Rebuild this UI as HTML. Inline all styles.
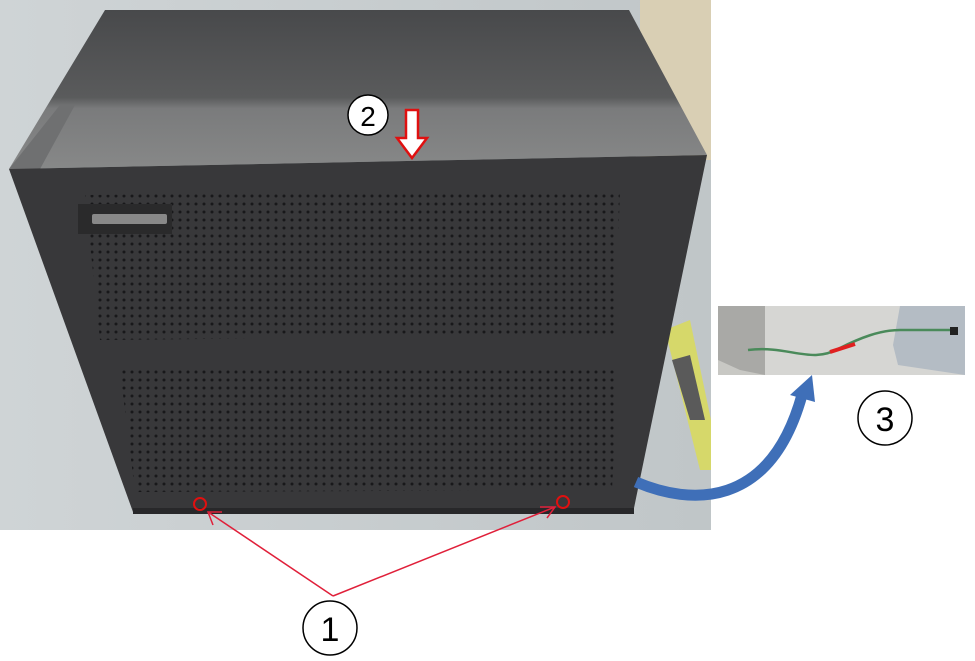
<!DOCTYPE html>
<html><head><meta charset="utf-8"><style>
html,body{margin:0;padding:0;background:#fff;width:975px;height:661px;overflow:hidden}
svg{display:block}
text{font-family:"Liberation Sans","DejaVu Sans",sans-serif}
</style></head><body>
<svg width="975" height="661" viewBox="0 0 975 661" xmlns="http://www.w3.org/2000/svg">
<defs>
<linearGradient id="floor" x1="0" y1="0" x2="1" y2="0">
<stop offset="0" stop-color="#cfd4d6"/><stop offset="1" stop-color="#c0c6c8"/></linearGradient>
<linearGradient id="topf" x1="0" y1="0" x2="0" y2="1">
<stop offset="0" stop-color="#48494b"/><stop offset="0.55" stop-color="#5a5b5c"/><stop offset="0.62" stop-color="#7a7b7c"/><stop offset="1" stop-color="#878888"/></linearGradient>
<pattern id="dots" width="8" height="8" patternUnits="userSpaceOnUse">
<rect width="8" height="8" fill="#38383a"/><circle cx="4" cy="4" r="1.5" fill="#18181a"/></pattern>
</defs>
<rect x="0" y="0" width="711" height="530" fill="url(#floor)"/>
<rect x="640" y="0" width="71" height="160" fill="#d9cfb4"/>
<polygon points="665,330 690,320 711,420 711,470 700,470" fill="#d6d86a"/>
<polygon points="672,360 690,355 705,420 690,420" fill="#5a5a5a"/>
<polygon points="9,169 105,10 629,10 707,155" fill="url(#topf)"/>
<polygon points="60,105 75,105 40,169 9,169" fill="#6f7071"/>
<polygon points="9,169 707,155 634,508 133,512" fill="#38383a"/>
<polygon points="85,195 620,190 615,335 100,340" fill="url(#dots)"/>
<polygon points="120,370 618,368 612,490 135,492" fill="url(#dots)"/>
<rect x="78" y="204" width="94" height="30" fill="#2a2a2b"/>
<rect x="92" y="214" width="75" height="10" fill="#888" rx="2"/>
<rect x="133" y="508" width="501" height="6" fill="#28282a"/>
<circle cx="200" cy="504" r="6" fill="none" stroke="#e01010" stroke-width="2"/>
<circle cx="563" cy="502" r="6" fill="none" stroke="#e01010" stroke-width="2"/>
<g stroke="#e0203a" stroke-width="1.5" fill="none">
<line x1="333" y1="596" x2="208" y2="512"/>
<line x1="333" y1="596" x2="555" y2="507"/>
<polyline points="222,512 208,512 213,525"/>
<polyline points="540,507 555,507 547,518"/>
</g>
<polygon points="406,110 418,110 418,138 427,138 412,158 397,138 406,138" fill="#fff" stroke="#e01010" stroke-width="2.5"/>
<circle cx="368" cy="115" r="20" fill="#fff" stroke="#000" stroke-width="1.5"/>
<text x="368" y="126" font-size="28" text-anchor="middle">2</text>
<rect x="718" y="306" width="247" height="69" fill="#d6d6d3"/>
<polygon points="718,306 765,306 765,375 718,375" fill="#a9a9a6"/>
<polygon points="718,360 740,370 765,375 718,375" fill="#c8c8c4"/>
<polygon points="900,306 965,306 965,375 898,365 893,345" fill="#b4bcc4"/>
<path d="M748,350 C790,345 810,365 840,348 C860,338 880,330 900,330 L955,330" stroke="#4a8a5a" stroke-width="2.5" fill="none"/>
<path d="M830,352 l25,-8" stroke="#e02020" stroke-width="4"/>
<rect x="950" y="327" width="8" height="8" fill="#222"/>
<path d="M636,482 C690,505 770,510 802,395" stroke="#3f6fb8" stroke-width="11" fill="none"/>
<polygon points="790,395 812,375 815,402" fill="#3f6fb8"/>
<circle cx="885" cy="418" r="27" fill="#fff" stroke="#000" stroke-width="1.5"/>
<text x="885" y="431" font-size="34" text-anchor="middle">3</text>
<circle cx="330" cy="628" r="27" fill="#fff" stroke="#000" stroke-width="1.5"/>
<text x="330" y="641" font-size="34" text-anchor="middle">1</text>
</svg>
</body></html>
